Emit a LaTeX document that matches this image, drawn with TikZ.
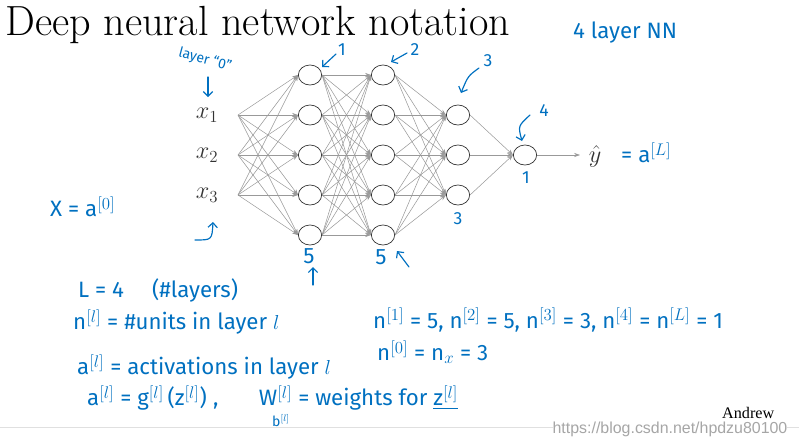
\documentclass[tikz,border=0pt]{standalone}
\usepackage{amsmath}
\usepackage{fontspec}
\newfontfamily\handfont{Fira Sans}
\newfontfamily\slidefont{Liberation Serif}
\newfontfamily\markfont{Liberation Sans}
\usepackage{tikz}
\usetikzlibrary{shapes.geometric, arrows.meta, positioning, calc}
\definecolor{inkblue}{RGB}{0,112,192}

\begin{document}
\begin{tikzpicture}[x=0.03cm, y=-0.03cm,
                unit/.style={ellipse, draw=black!80, line width=0.6pt, minimum width=0.7cm, minimum height=0.6cm, inner sep=0pt},
                wire/.style={black!40, line width=0.45pt, -{Stealth[length=5pt, width=3.5pt]}},
                note/.style={text=inkblue, font=\handfont\fontsize{19}{22}\selectfont, inner sep=0pt},
                small note/.style={note, font=\handfont\fontsize{12}{14}\selectfont},
                digit/.style={note, font=\handfont\fontsize{15}{17}\selectfont},
                ink/.style={inkblue, line width=1pt, line cap=round, -{Straight Barb[length=4pt]}},
                input/.style={font=\fontsize{21}{24}\selectfont, text=black!80, inner sep=0pt}
            ]
                \useasboundingbox (0,0) rectangle (799,445);
                \node[anchor=base west, inner sep=0pt, font=\fontsize{36}{40}\selectfont] (title) at (5,35) {Deep neural network notation};

                % inputs
                \node[input] (x1) at (207,115) {$x_1$};
                \node[input] (x2) at (207,155) {$x_2$};
                \node[input] (x3) at (207,195) {$x_3$};
                \coordinate (p1) at (238,115);
                \coordinate (p2) at (238,155);
                \coordinate (p3) at (238,195);

                % layers
                \foreach \i/\y in {1/75,2/115,3/155,4/195,5/235} {
                    \node[unit] (a1-\i) at (310,\y) {};
                    \node[unit] (a2-\i) at (383,\y) {};
                }
                \foreach \i/\y in {1/115,2/155,3/195}
                    \node[unit] (a3-\i) at (458,\y) {};
                \node[unit] (a4-1) at (525,155) {};
                \coordinate (out) at (580,155);

                \foreach \i in {1,2,3} \foreach \j in {1,...,5} \draw[wire] (p\i) -- (a1-\j.west);
                \foreach \i in {1,...,5} \foreach \j in {1,...,5} \draw[wire] (a1-\i.east) -- (a2-\j.west);
                \foreach \i in {1,...,5} \foreach \j in {1,2,3} \draw[wire] (a2-\i.east) -- (a3-\j.west);
                \foreach \i in {1,2,3} \draw[wire] (a3-\i.east) -- (a4-1.west);
                \draw[wire] (a4-1.east) -- (out);

                \node[input] (yhat) at (595,156) {$\hat{y}$};
                \node[note, anchor=west] (yeq) at (621,153) {= a$^{[L]}$};

                % handwritten notes
                \node[small note, rotate=-15] (l0) at (205,60) {layer “0”};
                \draw[ink] (208,77) -- (208,97);
                \draw[ink] (195,240) .. controls (212,240) .. (213,222);
                \node[digit] (n1) at (342,50) {1};
                \draw[ink] (336,54) -- (322,67);
                \node[digit] (n2) at (415,50) {2};
                \draw[ink] (407,53) -- (391,62);
                \node[digit] (n3) at (488,61) {3};
                \draw[ink] (479,68) .. controls (468,76) .. (461,93);
                \node[digit] (n4) at (544,111) {4};
                \draw[ink] (530,115) .. controls (518,126) .. (522,141);
                \node[note] (c1) at (309,256) {5};
                \draw[ink] (313,285) -- (313,267);
                \node[note] (c2) at (381,257) {5};
                \draw[ink] (409,267) -- (397,251);
                \node[digit] (c3) at (458,219) {3};
                \node[digit] (c4) at (526,178) {1};

                \node[note, anchor=west] (nn) at (573,33) {4 layer NN};
                \node[note, anchor=west] (xa) at (50,207) {X = a$^{[0]}$};
                \node[note, anchor=west] (L) at (78,290) {L = 4 \quad (\#layers)};
                \node[note, anchor=west] (nl) at (73,322) {n$^{[l]}$ = \#units in layer $l$};
                \node[note, anchor=west] (al) at (77,367) {a$^{[l]}$ = activations in layer $l$};
                \node[note, anchor=west] (ag) at (87,398) {a$^{[l]}$ = g$^{[l]}$\,(z$^{[l]}$)\;,\quad\;\; W$^{[l]}$ = weights for \underline{z$^{[l]}$}};
                \node[small note] (bl) at (281,421) {b$^{[l]}$};
                \node[note, anchor=west] (ns) at (373,320) {n$^{[1]}$ = 5, n$^{[2]}$ = 5, n$^{[3]}$ = 3, n$^{[4]}$ = n$^{[L]}$ = 1};
                \node[note, anchor=west] (n0) at (377,352) {n$^{[0]}$ = n$_x$ = 3};

                % slide footer
                \draw[black!12, line width=0.8pt] (0,427) -- (799,427);
                \node[anchor=base west, inner sep=0pt, font=\slidefont\fontsize{13.8}{16}\selectfont] (author) at (722,418) {Andrew};
                \node[fill=white, text=black!35, font=\markfont\fontsize{13.6}{15}\selectfont, inner sep=0pt] (mark) at (670,429) {https://blog.csdn.net/hpdzu80100};
            \end{tikzpicture}
\end{document}
